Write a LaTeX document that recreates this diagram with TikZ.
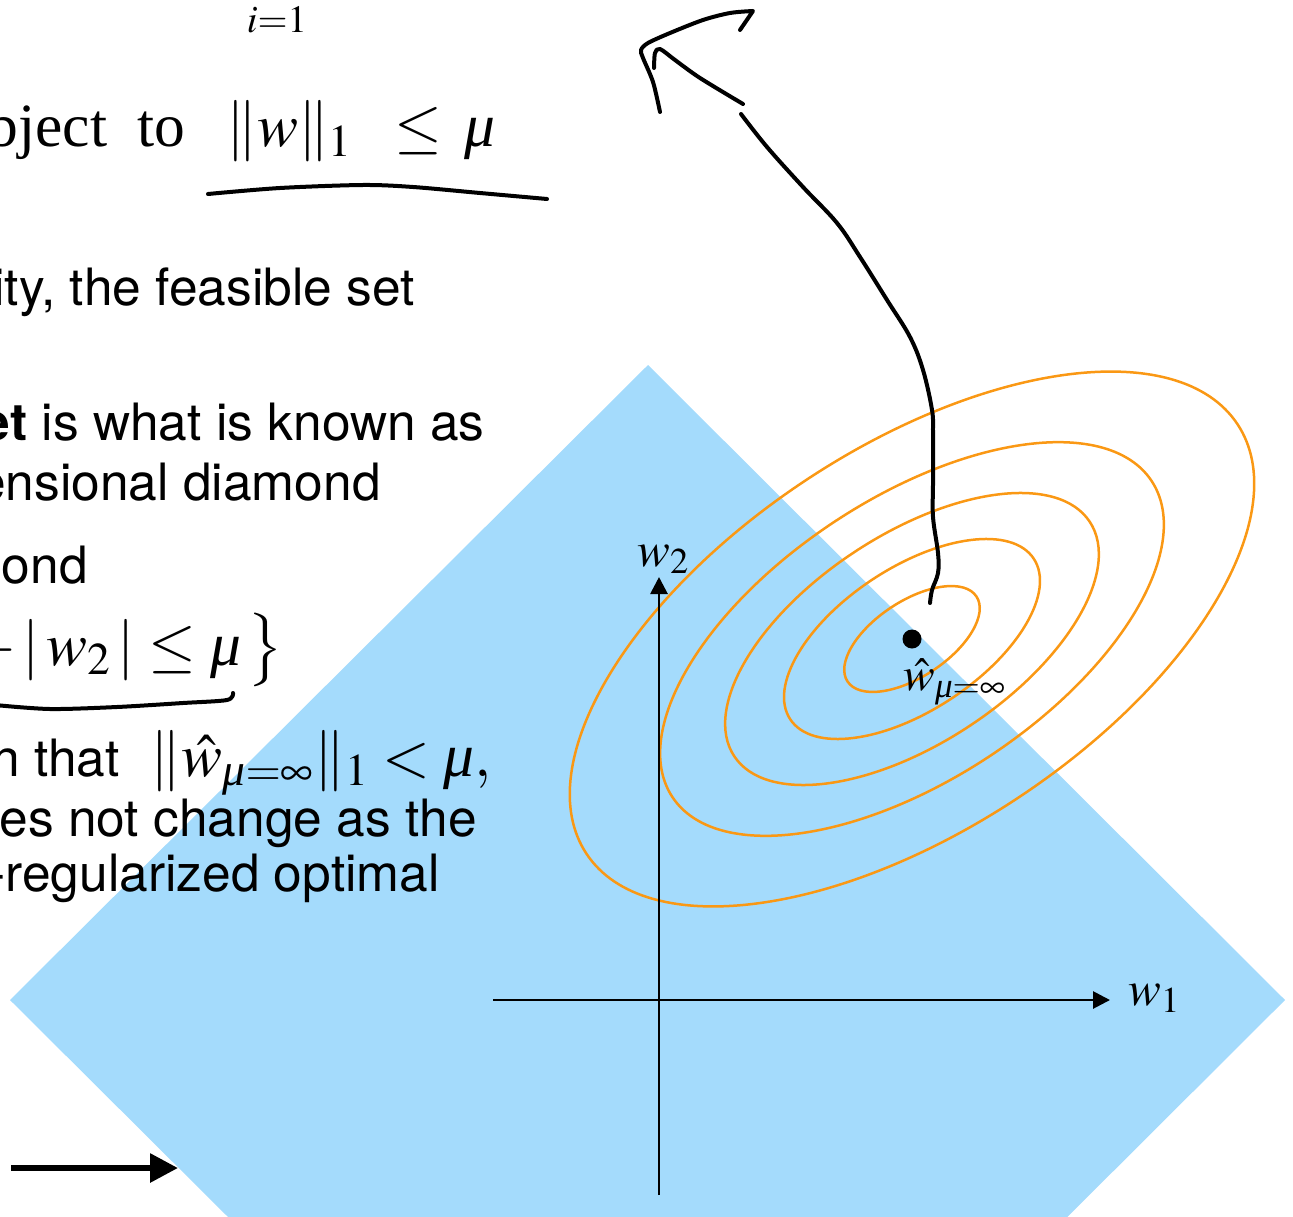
\documentclass[tikz,border=0pt]{standalone}
\usepackage{mathptmx}
\usepackage{amsmath}
\usepackage{fontspec}
\setmainfont{Liberation Serif}
\setsansfont{TeX Gyre Heros}
\usetikzlibrary{arrows.meta}
\definecolor{feasblue}{RGB}{164,219,252}
\definecolor{levelorange}{RGB}{250,152,20}
\newcommand{\itmu}{\text{\rmfamily\itshape μ}}
\tikzset{
  contour/.style={draw=levelorange, line width=0.05cm},
  axis/.style={line width=0.055cm, -{Triangle[length=0.34cm, width=0.34cm]}},
  handdrawn/.style={line width=0.08cm, line cap=round, line join=round},
  slidetext/.style={font=\sffamily\fontsize{29.3}{35}\selectfont, inner sep=0pt},
  slidemath/.style={font=\fontsize{35}{42}\selectfont, inner sep=0pt},
  axislabel/.style={font=\fontsize{28}{34}\selectfont, inner sep=0pt},
}
\begin{document}
\begin{tikzpicture}[x=0.02cm, y=-0.02cm]
\useasboundingbox (0,0) rectangle (1293,1216);
\clip (0,0) rectangle (1293,1216);
% feasible set ||w||_1 <= mu
\fill[feasblue] (648,365) -- (1285,1000) -- (648,1635) -- (10,1000) -- cycle;
% level sets of the loss
\coordinate (wopt) at (912,639);
\foreach \s in {0.198,0.374,0.546,0.736,1} {
  \pgfmathsetmacro{\ra}{390*\s}
  \pgfmathsetmacro{\rb}{191*\s}
  \draw[contour, rotate around={33.4:(wopt)}] (wopt) ellipse [x radius=\ra, y radius=\rb];
}
% slide text
\node[font=\fontsize{22}{26}\selectfont, inner sep=0pt, anchor=base] (sumlimit) at (277,33) {$i{=}1$};
\node[slidemath, anchor=base east] (subjto) at (186,147) {bject\ \ to};
\node[slidemath, anchor=base west] (normw) at (226,147) {$\|w\|_1$};
\node[slidemath, anchor=base west] (leq) at (394,147) {$\le$};
\node[slidemath, anchor=base west] (mu) at (464,147) {$\itmu$};
\node[slidetext, anchor=base east] (line2) at (415,305) {ity, the feasible set};
\node[slidetext, anchor=base east] (line3) at (485,440) {\textbf{et} is what is known as};
\node[slidetext, anchor=base east] (line4) at (381,500) {ensional diamond};
\node[slidetext, anchor=base east] (line5) at (88,583) {mond};
\node[slidemath, anchor=base east] (setdef) at (284,665) {$+\,|\,w_2\,| \le \itmu\,\bigr\}$};
\node[slidetext, anchor=base east] (line7) at (120,776) {n that};
\node[slidemath, anchor=base east] (unreg) at (492,776) {$\|\hat w_{\itmu=\infty}\|_1 < \itmu,$};
\node[slidetext, anchor=base east] (line8) at (477,836) {es not change as the};
\node[slidetext, anchor=base east] (line9) at (440,891) {-regularized optimal};
% axes
\coordinate (w1tail) at (493,1000);
\coordinate (w1tip) at (1110,1000);
\coordinate (w2tail) at (659,1195);
\coordinate (w2tip) at (659,577);
\draw[axis] (w1tail) -- (w1tip);
\draw[axis] (w2tail) -- (w2tip);
\node[axislabel, anchor=base west] (w1label) at (1128,1005) {$w_1$};
\node[axislabel, anchor=base west] (w2label) at (637,566) {$w_2$};
% unregularized optimum
\fill (wopt) circle (9.5);
\node[font=\fontsize{27}{31}\selectfont, inner sep=0pt, anchor=base west] (wlabel) at (903,690) {$\hat w_{\itmu=\infty}$};
% pen annotations
\draw[handdrawn] plot[smooth, tension=0.6] coordinates {(930,603) (932,590) (938,573) (938,553) (933,517) (933,483) (933,433) (932,410) (923,370) (910,337) (887,300) (860,257) (837,223) (803,187) (767,147) (741,114)};
\draw[handdrawn] plot[smooth] coordinates {(743,104) (700,78) (675,60) (660,49) (655,53) (654,68)};
\draw[handdrawn] plot[smooth] coordinates {(660,112) (653,82) (643,58) (641,50) (648,43) (670,33) (703,20) (730,13) (753,11)} -- (740,30);
\draw[handdrawn] plot[smooth] coordinates {(208,194) (280,188) (363,185) (413,187) (480,193) (547,199)};
\draw[handdrawn] plot[smooth] coordinates {(-5,705) (50,709) (117,707) (183,703) (227,700) (233,693)};
\coordinate (feedtail) at (11,1168);
\coordinate (feedtip) at (178,1168);
\draw[line width=0.12cm, -{Triangle[length=0.56cm, width=0.56cm]}] (feedtail) -- (feedtip);
\end{tikzpicture}
\end{document}
